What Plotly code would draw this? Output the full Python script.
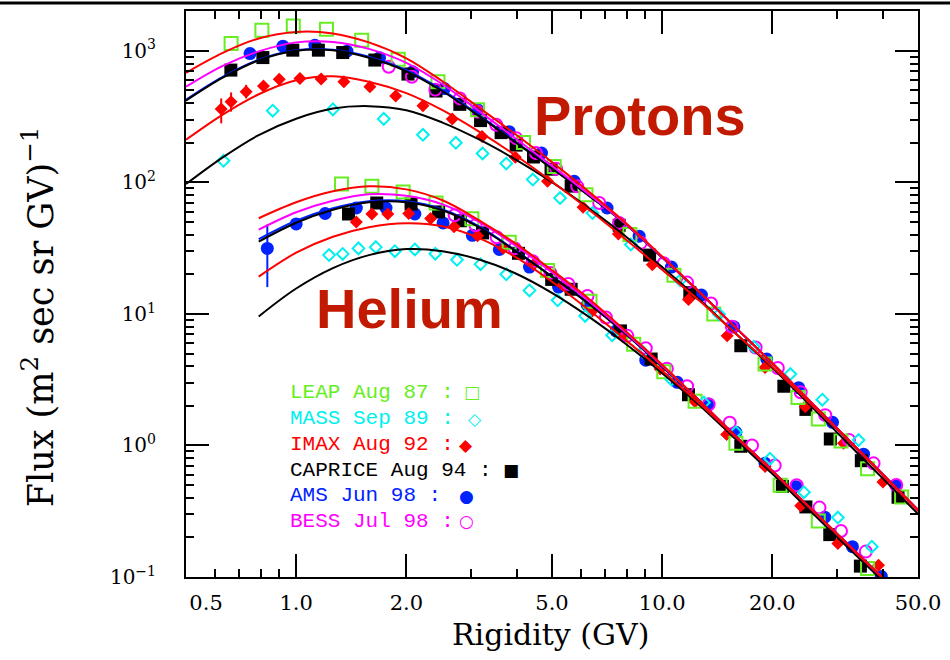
import plotly.graph_objects as go

# ---------------- data: protons ----------------
leap_p_R = [0.664, 0.806, 0.982, 1.21, 1.51, 1.90, 2.44, 3.13, 4.18, 5.07, 6.19, 8.16, 10.77, 13.84, 19.1, 23.5, 26.7, 30.8, 36.4, 45.1]
leap_p_F = [1136, 1435, 1546, 1459, 1205, 865, 582, 356, 201, 132, 80.7, 40.2, 19.7, 10.0, 4.16, 2.32, 1.59, 1.08, 0.665, 0.406]

mass_p_R = [0.633, 0.863, 1.26, 1.735, 2.22, 2.73, 3.23, 3.75, 4.43, 5.26, 6.45, 8.21, 11.2, 14.3, 17.8, 22.4, 27.4, 34.4]
mass_p_F = [146, 351, 359, 304, 230, 200, 166, 139, 105, 76, 58.5, 33.7, 18.0, 9.95, 5.62, 3.49, 2.23, 1.10]

imax_p_R = [0.624, 0.664, 0.730, 0.814, 0.899, 1.024, 1.17, 1.35, 1.59, 1.87, 2.22, 2.67, 3.22, 3.97, 4.86, 6.08, 7.59, 9.40, 11.8, 15.05, 19.1, 24.6, 31.3, 40.1]
imax_p_F = [361, 411, 489, 541, 607, 617, 611, 582, 533, 454, 383, 304, 223, 155, 102, 64.7, 40.6, 23.7, 12.9, 6.81, 3.92, 1.97, 1.04, 0.527]
imax_p_hi = [435, 483, 552] + [None] * 21
imax_p_lo = [281, 345, 435] + [None] * 21

caprice_p_R = [0.663, 0.811, 0.979, 1.15, 1.34, 1.64, 2.02, 2.41, 2.80, 3.19, 3.63, 3.99, 4.45, 4.97, 5.64, 7.63, 9.24, 11.9, 16.4, 21.5, 24.7, 28.8, 35.0, 44.1]
caprice_p_F = [714, 889, 1012, 1012, 971, 851, 666, 495, 392, 295, 239, 192, 156, 126, 93.7, 47.2, 28.0, 14.5, 5.73, 2.82, 1.88, 1.12, 0.766, 0.404]

ams_p_R = [0.748, 0.920, 1.125, 1.376, 1.69, 2.08, 2.54, 3.13, 3.82, 4.68, 5.75, 7.07, 8.65, 10.6, 12.8, 15.7, 19.3, 23.6, 29.2, 35.5, 43.6]
ams_p_F = [954, 1086, 1105, 995, 885, 693, 517, 357, 243, 167, 102, 63.9, 39.0, 22.7, 13.9, 7.98, 4.54, 2.75, 1.50, 0.859, 0.493]

bess_p_R = [1.79, 2.07, 2.40, 2.80, 3.13, 3.52, 3.99, 4.52, 5.13, 5.86, 6.73, 7.63, 8.74, 10.1, 11.7, 13.6, 15.5, 18.0, 20.7, 23.9, 27.9, 32.4, 37.8, 43.6]
bess_p_F = [757, 635, 507, 435, 345, 274, 217, 167, 127, 93.3, 69.7, 49.2, 34.7, 24.3, 17.3, 12.0, 7.98, 5.56, 3.88, 2.54, 1.70, 1.10, 0.731, 0.500]

# ---------------- data: helium ----------------
leap_he_R = [1.33, 1.61, 1.96, 2.41, 3.02, 3.82, 4.86, 6.35, 8.36, 10.1, 12.3, 15.9, 21.0, 26.7, 36.4]
leap_he_F = [97.1, 93.3, 84.5, 69.7, 52.9, 35.1, 21.4, 12.5, 5.89, 3.64, 2.17, 1.04, 0.498, 0.266, 0.116]

mass_he_R = [1.23, 1.34, 1.48, 1.65, 1.86, 2.11, 2.40, 2.75, 3.19, 3.75, 4.34, 5.18, 6.16, 7.30, 8.85, 10.6, 13.0, 15.9, 19.7, 24.4, 30.2, 37.4]
mass_he_F = [28.0, 28.6, 31.5, 32.2, 30.0, 30.9, 28.7, 25.8, 23.9, 20.0, 15.1, 12.7, 9.66, 6.88, 5.13, 3.17, 2.12, 1.26, 0.793, 0.441, 0.283, 0.170]

imax_he_R = [1.46, 1.61, 1.78, 2.03, 2.33, 2.70, 3.13, 3.68, 4.45, 5.35, 6.43, 7.82, 9.87, 12.3, 15.0, 19.1, 23.9, 30.2, 39.0]
imax_he_F = [50.0, 57.5, 57.5, 58.0, 53.1, 46.0, 39.3, 31.6, 23.8, 16.6, 10.5, 6.70, 3.81, 2.15, 1.21, 0.693, 0.348, 0.180, 0.123]

caprice_he_R = [1.39, 1.66, 2.06, 2.45, 2.81, 3.23, 4.05, 4.99, 5.64, 7.69, 9.33, 11.8, 16.4, 21.3, 24.7, 28.7, 34.8]
caprice_he_F = [57.5, 69.7, 68.5, 59.6, 51.1, 41.3, 28.9, 18.3, 15.4, 7.43, 4.54, 2.43, 0.986, 0.489, 0.341, 0.210, 0.121]

ams_he_R = [0.834, 1.00, 1.20, 1.46, 1.76, 2.11, 2.52, 3.03, 3.59, 4.34, 5.21, 6.24, 7.48, 9.02, 11.0, 13.4, 15.9, 19.1, 23.2, 27.8, 33.1, 39.7]
ams_he_F = [31.5, 48.3, 58.0, 63.9, 63.9, 57.5, 49.2, 39.6, 30.9, 22.7, 16.0, 11.7, 7.43, 4.45, 3.02, 2.07, 1.26, 0.731, 0.486, 0.285, 0.170, 0.101]
ams_he_hi = [47.9] + [None] * 21
ams_he_lo = [16.0] + [None] * 21

bess_he_R = [2.71, 3.09, 3.53, 3.95, 4.43, 4.95, 5.54, 6.25, 7.02, 8.03, 9.02, 10.3, 11.7, 13.4, 15.3, 17.6, 20.3, 23.3, 26.9, 30.8, 36.0]
bess_he_F = [56.2, 47.2, 38.3, 31.6, 25.2, 20.5, 16.9, 13.7, 9.40, 6.81, 5.49, 3.83, 2.82, 2.05, 1.49, 1.00, 0.705, 0.498, 0.337, 0.224, 0.156]

# ---------------- model curves ----------------
curve_p_R = [0.5, 0.63, 0.79, 1.0, 1.26, 1.58, 2.0, 2.51, 3.16, 3.98, 5.01, 6.31, 7.94, 10.0, 12.6, 15.8, 20.0, 25.1, 31.6, 39.8, 50.1]
curve_p_red_hi = [681, 966, 1243, 1393, 1357, 1160, 878, 587, 370, 231, 142, 84.7, 49.3, 27.3, 14.8, 7.97, 4.22, 2.23, 1.17, 0.614, 0.322]
curve_p_mag = [534, 770, 991, 1160, 1170, 1036, 811, 557, 348, 215, 133, 81.1, 48.5, 27.0, 14.8, 7.97, 4.22, 2.23, 1.17, 0.614, 0.322]
curve_p_blue = [426, 635, 855, 1009, 1018, 901, 712, 502, 325, 203, 128, 79.7, 48.5, 26.8, 14.8, 7.97, 4.22, 2.23, 1.17, 0.614, 0.322]
curve_p_black = [418, 625, 847, 1000, 1009, 885, 699, 493, 319, 201, 127, 79.0, 48.1, 26.8, 14.8, 7.97, 4.22, 2.23, 1.17, 0.614, 0.322]
curve_p_red_lo = [211, 328, 468, 598, 641, 583, 477, 354, 243, 160, 101, 61.9, 37.0, 21.7, 12.7, 7.18, 3.97, 2.15, 1.15, 0.603, 0.316]
curve_p_black_lo = [97.1, 155, 229, 305, 364, 380, 354, 285, 212, 149, 100, 63.5, 39.0, 22.7, 13.0, 7.18, 3.90, 2.08, 1.09, 0.572, 0.300]

curve_he_R = [0.79, 1.0, 1.26, 1.58, 2.0, 2.51, 3.16, 3.98, 5.01, 6.31, 7.94, 10.0, 12.6, 15.8, 20.0, 25.1, 31.6, 39.8]
curve_he_red_hi = [53.4, 70.6, 85.5, 93.3, 88.5, 73.1, 51.5, 34.2, 21.4, 13.0, 7.43, 4.11, 2.21, 1.19, 0.641, 0.345, 0.186, 0.100]
curve_he_mag = [43.7, 59.3, 72.4, 81.1, 79.0, 68.1, 50.2, 33.0, 20.6, 12.5, 7.24, 4.04, 2.21, 1.19, 0.641, 0.345, 0.186, 0.100]
curve_he_blue = [37.0, 51.1, 63.5, 71.8, 71.8, 62.4, 46.4, 30.3, 19.2, 12.0, 7.06, 3.97, 2.21, 1.19, 0.641, 0.345, 0.186, 0.100]
curve_he_black = [35.4, 49.3, 61.9, 70.6, 70.6, 61.4, 45.6, 30.0, 19.1, 11.9, 7.06, 3.97, 2.21, 1.19, 0.641, 0.345, 0.186, 0.100]
curve_he_red_lo = [19.2, 29.2, 38.6, 45.6, 48.9, 46.4, 37.7, 27.0, 17.5, 10.7, 6.35, 3.70, 2.10, 1.17, 0.635, 0.342, 0.184, 0.099]
curve_he_black_lo = [9.57, 15.6, 22.3, 28.0, 31.1, 30.0, 25.9, 20.3, 14.4, 9.49, 5.93, 3.54, 2.04, 1.13, 0.608, 0.327, 0.176, 0.095]

x_tickvals = [0.5, 1, 2, 5, 10, 20, 50]
x_ticktext = ["\u2007\u2007\u20070.5", "1.0", "2.0", "5.0", "10.0", "20.0", "50.0"]
x_minor = [0.6, 0.7, 0.8, 0.9, 3, 4, 6, 7, 8, 9, 30, 40]
y_tickvals = [0.1, 1, 10, 100, 1000]
y_ticktext = ["10<sup>\u22121</sup>", "10<sup>0</sup>", "10<sup>1</sup>", "10<sup>2</sup>", "10<sup>3</sup>"]
y_minor = [m * d for d in (0.1, 1, 10, 100, 1000) for m in range(2, 10)]

GREEN, CYAN, RED, BLACK, BLUE, MAG = "#66ee22", "#00f0f0", "#ff0000", "#000000", "#0022ff", "#ff00ff"

legend_rows = [
    ("LEAP Aug 87 :", "\u25A1", GREEN),
    ("MASS Sep 89 :", "\u25C7", CYAN),
    ("IMAX Aug 92 :", "\u25C6", RED),
    ("CAPRICE Aug 94 :", "\u25A0", BLACK),
    ("AMS Jun 98 :", "\u25CF", BLUE),
    ("BESS Jul 98 :", "\u25CB", MAG),
]

fig = go.Figure()

def pts(R, F, symbol, color, size, lw=0, err=None):
    kw = {}
    if err is not None:
        hi, lo = err
        kw["error_y"] = dict(type="data", symmetric=False,
                             array=[(h - f) if h is not None else 0 for h, f in zip(hi, F)],
                             arrayminus=[(f - l) if l is not None else 0 for l, f in zip(lo, F)],
                             color=color, thickness=2, width=0)
    fig.add_trace(go.Scatter(x=R, y=F, mode="markers",
                             marker=dict(symbol=symbol, color=color, size=size,
                                         line=dict(color=color, width=lw)),
                             showlegend=False, **kw))

# draw order: AMS, CAPRICE, IMAX, BESS, LEAP, MASS
pts(ams_p_R, ams_p_F, "circle", BLUE, 13)
pts(ams_he_R, ams_he_F, "circle", BLUE, 13, err=(ams_he_hi, ams_he_lo))
pts(caprice_p_R, caprice_p_F, "square", BLACK, 13)
pts(caprice_he_R, caprice_he_F, "square", BLACK, 13)
pts(imax_p_R, imax_p_F, "diamond", RED, 10, err=(imax_p_hi, imax_p_lo))
pts(imax_he_R, imax_he_F, "diamond", RED, 10)
pts(bess_p_R, bess_p_F, "circle-open", MAG, 12, lw=2)
pts(bess_he_R, bess_he_F, "circle-open", MAG, 12, lw=2)
pts(leap_p_R, leap_p_F, "square-open", GREEN, 13, lw=2)
pts(leap_he_R, leap_he_F, "square-open", GREEN, 13, lw=2)
pts(mass_p_R, mass_p_F, "diamond-open", CYAN, 9, lw=2)
pts(mass_he_R, mass_he_F, "diamond-open", CYAN, 9, lw=2)

def curve(R, F, color):
    fig.add_trace(go.Scatter(x=R, y=F, mode="lines",
                             line=dict(color=color, width=2, shape="spline", smoothing=1.0),
                             showlegend=False))

for R, F, c in [
    (curve_p_R, curve_p_black_lo, BLACK), (curve_p_R, curve_p_red_lo, RED),
    (curve_p_R, curve_p_blue, BLUE), (curve_p_R, curve_p_black, BLACK),
    (curve_p_R, curve_p_mag, MAG), (curve_p_R, curve_p_red_hi, RED),
    (curve_he_R, curve_he_black_lo, BLACK), (curve_he_R, curve_he_red_lo, RED),
    (curve_he_R, curve_he_blue, BLUE), (curve_he_R, curve_he_black, BLACK),
    (curve_he_R, curve_he_mag, MAG), (curve_he_R, curve_he_red_hi, RED),
]:
    curve(R, F, c)

W, H = 950, 660
L, Rm, T, B = 186, 30, 9, 83
PW, PH = W - L - Rm, H - T - B

def px(xp):
    return (xp - L) / PW

def py(yp):
    return (H - B - yp) / PH

def note(text, x, y, size, family, color="black", xanchor="center", angle=0):
    return dict(text=text, x=px(x), y=py(y), xref="paper", yref="paper",
                xanchor=xanchor, yanchor="middle", showarrow=False, textangle=angle,
                font=dict(family=family, size=size, color=color))

annotations = [
    note("<b>Protons</b>", 641, 114, 56, "Liberation Sans", "#c21a00"),
    note("<b>Helium</b>", 410, 308, 56, "Liberation Sans", "#c21a00"),
    note("Rigidity (GV)", 551, 635, 30, "DejaVu Serif"),
    note("Flux (m<sup>2</sup> sec sr GV)<sup>\u22121</sup>", 38, 316, 35, "DejaVu Serif", angle=-90),
]
row_y = [391.7, 418.3, 444.3, 470, 495.5, 521]
sym_x = [473, 476, 467, 512, 467, 467]
for (label, sym, col), yy, sx in zip(legend_rows, row_y, sym_x):
    annotations.append(note(label, 288, yy, 21, "Liberation Mono", col, xanchor="left"))
    annotations.append(note(sym, sx, yy, 17, "DejaVu Sans", col))

axis_common = dict(showline=True, linewidth=2, linecolor="black", mirror="allticks",
                   ticks="inside", ticklen=23, tickwidth=2, tickcolor="black",
                   showgrid=False, zeroline=False)

fig.update_layout(
    width=W, height=H,
    margin=dict(l=L, r=Rm, t=T, b=B),
    paper_bgcolor="white", plot_bgcolor="white",
    xaxis=dict(type="log", range=[-0.30103, 1.69897], tickmode="array",
               tickvals=x_tickvals, ticktext=x_ticktext,
               tickfont=dict(family="DejaVu Serif", size=21, color="black"),
               ticklabelstandoff=6,
               minor=dict(tickmode="array", tickvals=x_minor, ticks="inside",
                          ticklen=8, tickwidth=2, tickcolor="black", showgrid=False),
               **axis_common),
    yaxis=dict(type="log", range=[-1, 3.303], tickmode="array",
               tickvals=y_tickvals, ticktext=y_ticktext,
               tickfont=dict(family="DejaVu Serif", size=20, color="black"),
               ticklabelstandoff=24,
               minor=dict(tickmode="array", tickvals=y_minor, ticks="inside",
                          ticklen=8, tickwidth=2, tickcolor="black", showgrid=False),
               **axis_common),
    annotations=annotations,
    shapes=[dict(type="line", xref="paper", yref="paper", x0=-0.3, x1=1.1,
                 y0=py(1), y1=py(1), line=dict(color="black", width=3))],
)

fig.write_html("out.html")
